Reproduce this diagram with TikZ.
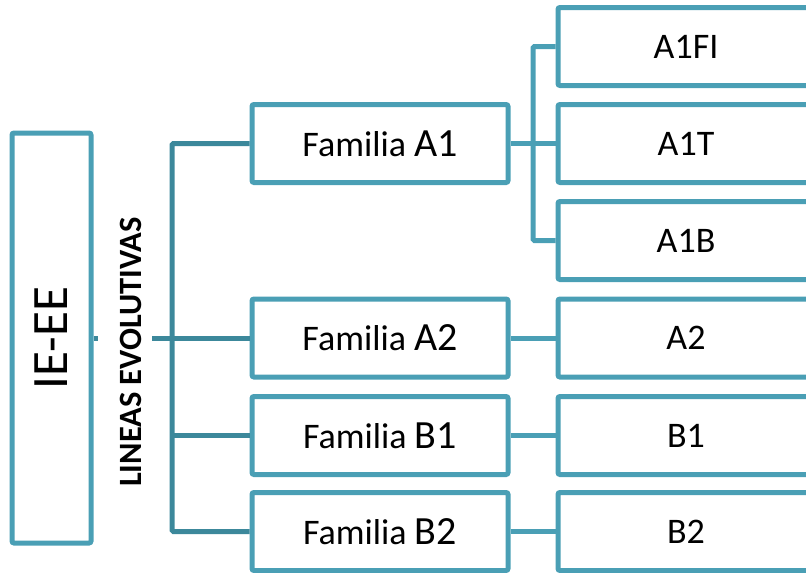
\documentclass[tikz,border=0pt]{standalone}
\usepackage{fontspec}
\setmainfont{Carlito}
\definecolor{boxc}{HTML}{4A9FB5}
\definecolor{busc}{HTML}{3C889B}
\tikzset{
  box/.style={draw=boxc, line width=5pt, rounded corners=2pt, fill=white, inner sep=0pt,
    minimum width=256pt, minimum height=78pt, font=\fontsize{36}{40}\selectfont, text=black},
  conn/.style={draw=busc, line width=5pt, rounded corners=1.5pt},
  conn2/.style={draw=boxc, line width=5pt, rounded corners=1.5pt},
}
\newcommand{\famlab}[1]{{\fontsize{40}{44}\selectfont #1}}
\begin{document}
\begin{tikzpicture}[x=1pt,y=1pt]
\useasboundingbox (0,0) rectangle (806,-573);
\clip (0,0) rectangle (806,-573);
\coordinate (j) at (172,-338);
\coordinate (s1) at (98,-338);
\coordinate (s2) at (152,-338);
\coordinate (k) at (533,-143.5);
\node[box, minimum width=79pt, minimum height=410pt] (IE) at (51.5,-338) {};
\node[rotate=90, font=\fontsize{51}{55}\selectfont] (ietext) at (IE.center) {IE-EE};
\node[rotate=90, inner sep=0pt, font=\bfseries\fontsize{32.5}{36}\selectfont] (lin) at (131,-352) {LINEAS EVOLUTIVAS};
\draw[conn] (IE.east) -- (s1);
\draw[conn] (s2) -- (j);
\node[box] (fA1) at (380,-143.5) {Familia \famlab{A1}};
\node[box] (fA2) at (380,-338) {Familia \famlab{A2}};
\node[box] (fB1) at (380,-435.5) {Familia \famlab{B1}};
\node[box] (fB2) at (380,-531.5) {Familia \famlab{B2}};
\node[box] (rA1FI) at (686,-46.5) {A1FI};
\node[box] (rA1T) at (686,-143.5) {A1T};
\node[box] (rA1B) at (686,-240.5) {A1B};
\node[box] (rA2) at (686,-338) {A2};
\node[box] (rB1) at (686,-435.5) {B1};
\node[box] (rB2) at (686,-531.5) {B2};
\draw[conn] (fA1.west) -| (j |- fB2.west) -- (fB2.west);
\draw[conn] (j) -- (fA2.west);
\draw[conn] (j |- fB1.west) -- (fB1.west);
\draw[conn2] (rA1FI.west) -| (k) |- (rA1B.west);
\draw[conn2] (fA1.east) -- (rA1T.west);
\draw[conn2] (fA2.east) -- (rA2.west);
\draw[conn2] (fB1.east) -- (rB1.west);
\draw[conn2] (fB2.east) -- (rB2.west);
\end{tikzpicture}
\end{document}
